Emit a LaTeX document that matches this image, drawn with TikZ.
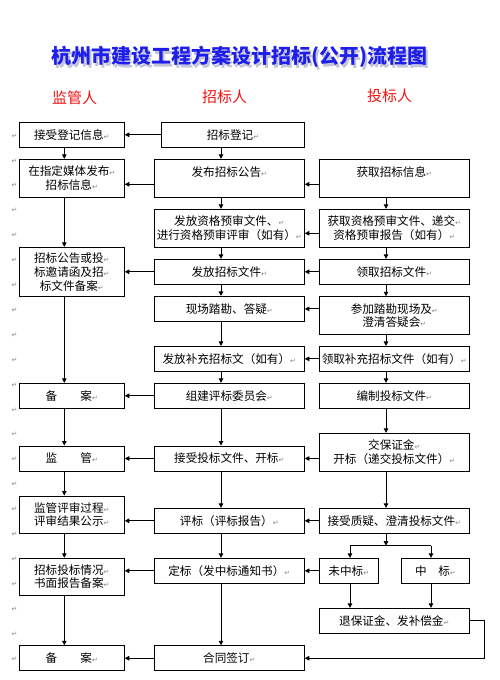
\documentclass[tikz,border=0pt]{standalone}
\usepackage{fontspec}
\setmainfont{Noto Sans CJK SC}
\newfontfamily\retfont{DejaVu Sans}
\usetikzlibrary{arrows.meta,calc}
\definecolor{ttlblue}{RGB}{30,30,235}
\definecolor{ttlshadow}{RGB}{195,195,215}
\definecolor{hdrred}{RGB}{240,20,20}
\definecolor{markgray}{RGB}{135,135,135}
\newcommand{\pmk}{{\retfont\fontsize{7}{7}\selectfont\textcolor{markgray}{↵}}}
\newcommand{\ttltext}{杭州市建设工程方案设计招标(公开)流程图}
\begin{document}
\begin{tikzpicture}[x=1pt,y=-1pt,
  box/.style={draw, line width=0.9pt, inner sep=0pt, align=center,
    font=\fontsize{11.6}{13.7}\selectfont},
  colL/.style={minimum width=105pt},
  colM/.style={minimum width=150pt},
  colR/.style={minimum width=150pt},
  hA/.style={minimum height=25pt},
  hB/.style={minimum height=38pt},
  hC/.style={minimum height=49.4pt},
  arr/.style={line width=0.9pt, -{Triangle[width=4.5pt,length=4.5pt]}},
  ln/.style={line width=0.9pt},
  hdr/.style={text=hdrred, font=\fontsize{15}{15}\selectfont},
  ttl/.style={font=\fontsize{20}{20}\selectfont\bfseries},
  margmark/.style={inner sep=0pt, font=\retfont\fontsize{7}{7}\selectfont, text=markgray}]
\fill[white] (0,0) rectangle (500,680);
\useasboundingbox (0,0) rectangle (500,680);

% title with soft shadow (one node)
\node[ttl] (title) at (239,58) {\rlap{\hspace{2.5pt}\raisebox{-3pt}{\textcolor{ttlshadow}{\ttltext}}}\textcolor{ttlblue}{\ttltext}};

% column headers
\node[hdr] (h1) at (74.5,98) {监管人};
\node[hdr] (h2) at (224.5,97) {招标人};
\node[hdr] (h3) at (389.5,96) {投标人};

% margin marks
\foreach \k in {0,...,21}
  \node[margmark] (m\k) at (14.5,{136+24.9*\k}) {↵};

% arrow columns
\coordinate (xL) at (64.3,0);
\coordinate (xM) at (221,0);
\coordinate (xR) at (386,0);
\coordinate (xa) at (350,0);
\coordinate (xb) at (431,0);
\coordinate (rc) at (484.3,0);
\coordinate (y1) at (0,184.3);
\coordinate (y2) at (0,233.3);

% left column
\node[box,colL,hA] (jsdj) at (71.8,134.8) {接受登记信息\pmk};
\node[box,colL,hB] (zdmt) at (71.8,178.3) {在指定媒体发布\pmk\\招标信息\pmk};
\node[box,colL,hC] (bagg) at (71.8,272) {招标公告或投\pmk\\标邀请函及招\pmk\\标文件备案\pmk};
\node[box,colL,hA] (ba1) at (71.8,395.8) {备\hspace{2em}案\pmk};
\node[box,colL,hA] (jg) at (71.8,458.5) {监\hspace{2em}管\pmk};
\node[box,colL,minimum height=37.3pt] (jgps) at (71.8,514.65) {监管评审过程\pmk\\评审结果公示\pmk};
\node[box,colL,minimum height=36.7pt] (zbqk) at (71.8,576.65) {招标投标情况\pmk\\书面报告备案\pmk};
\node[box,colL,hA] (ba3) at (71.8,658.2) {备\hspace{2em}案\pmk};

% middle column
\node[box,minimum width=142.6pt,hA] (zbdj) at (233,134.8) {招标登记\pmk};
\node[box,colM,hB] (fbgg) at (229.3,178.3) {发布招标公告\pmk\\\mbox{}};
\node[box,colM,hB] (ffzg) at (229.3,228.3) {发放资格预审文件、\pmk\\进行资格预审评审（如有）\pmk};
\node[box,colM,hA] (ffwj) at (229.3,271.8) {发放招标文件\pmk};
\node[box,colM,hA] (xctk) at (229.3,308.9) {现场踏勘、答疑\pmk};
\node[box,colM,hA] (ffbc) at (229.3,358.9) {发放补充招标文（如有）\pmk};
\node[box,colM,hA] (zjpb) at (229.3,395.8) {组建评标委员会\pmk};
\node[box,colM,hA] (jstb) at (229.3,458.5) {接受投标文件、开标\pmk};
\node[box,colM,hA] (pb) at (229.3,520.8) {评标（评标报告）\pmk};
\node[box,colM,hA] (db) at (229.3,570.8) {定标（发中标通知书）\pmk};
\node[box,colM,hA] (ht) at (229.3,658.2) {合同签订\pmk};

% right column
\node[box,colR,hB] (hqxx) at (394.3,178.3) {获取招标信息\pmk\\\mbox{}};
\node[box,colR,hB] (hqzg) at (394.3,228.3) {获取资格预审文件、递交\pmk\\资格预审报告（如有）\pmk};
\node[box,colR,hA] (lqwj) at (394.3,271.8) {领取招标文件\pmk};
\node[box,colR,minimum height=37.6pt] (cjtk) at (394.3,315.5) {参加踏勘现场及\pmk\\澄清答疑会\pmk};
\node[box,colR,hA] (lqbc) at (394.3,358.9) {领取补充招标文件（如有）\pmk};
\node[box,colR,hA] (bztb) at (394.3,395.8) {编制投标文件\pmk};
\node[box,colR,minimum height=37.7pt] (jbzj) at (394.3,452.15) {交保证金\pmk\\开标（递交投标文件）\pmk};
\node[box,colR,hA] (jszy) at (394.3,520.8) {接受质疑、澄清投标文件\pmk};
\node[box,minimum width=59pt,hA] (wzb) at (348.8,570.8) {未中标\pmk};
\node[box,minimum width=67.6pt,hA] (zb) at (435.5,570.8) {中\hspace{1em}标\pmk};
\node[box,colR,hA] (tbzj) at (394.3,620.8) {退保证金、发补偿金\pmk};

% vertical arrows, left
\draw[arr] (jsdj.south -| xL) -- (zdmt.north -| xL);
\draw[arr] (zdmt.south -| xL) -- (bagg.north -| xL);
\draw[arr] (bagg.south -| xL) -- (ba1.north -| xL);
\draw[arr] (ba1.south -| xL) -- (jg.north -| xL);
\draw[arr] (jg.south -| xL) -- (jgps.north -| xL);
\draw[arr] (jgps.south -| xL) -- (zbqk.north -| xL);
\draw[arr] (zbqk.south -| xL) -- (ba3.north -| xL);

% vertical arrows, middle
\draw[arr] (zbdj.south -| xM) -- (fbgg.north -| xM);
\draw[arr] (fbgg.south -| xM) -- (ffzg.north -| xM);
\draw[arr] (ffzg.south -| xM) -- (ffwj.north -| xM);
\draw[arr] (ffwj.south -| xM) -- (xctk.north -| xM);
\draw[arr] (xctk.south -| xM) -- (ffbc.north -| xM);
\draw[arr] (ffbc.south -| xM) -- (zjpb.north -| xM);
\draw[arr] (zjpb.south -| xM) -- (jstb.north -| xM);
\draw[arr] (jstb.south -| xM) -- (pb.north -| xM);
\draw[arr] (pb.south -| xM) -- (db.north -| xM);
\draw[arr] (db.south -| xM) -- (ht.north -| xM);

% vertical arrows, right
\draw[arr] (hqxx.south -| xR) -- (hqzg.north -| xR);
\draw[arr] (hqzg.south -| xR) -- (lqwj.north -| xR);
\draw[arr] (lqwj.south -| xR) -- (cjtk.north -| xR);
\draw[arr] (cjtk.south -| xR) -- (lqbc.north -| xR);
\draw[arr] (lqbc.south -| xR) -- (bztb.north -| xR);
\draw[arr] (bztb.south -| xR) -- (jbzj.north -| xR);
\draw[arr] (jbzj.south -| xR) -- (jszy.north -| xR);

% split to 未中标 / 中标
\coordinate (sp) at (386,545.7);
\draw[arr] (jszy.south -| xR) -- (sp);
\draw[ln] (sp -| xa) -- (sp -| xb);
\draw[arr] (sp -| xa) -- (wzb.north -| xa);
\draw[arr] (sp -| xb) -- (zb.north -| xb);
\draw[arr] (wzb.south -| xa) -- (tbzj.north -| xa);
\draw[arr] (zb.south -| xb) -- (tbzj.north -| xb);

% horizontal arrows
\draw[arr] (zbdj.west) -- (jsdj.east |- zbdj.west);
\draw[arr] (fbgg.west |- y1) -- (zdmt.east |- y1);
\draw[arr] (hqxx.west |- y1) -- (fbgg.east |- y1);
\draw[arr] (hqzg.west |- y2) -- (ffzg.east |- y2);
\draw[arr] (ffwj.west) -- (bagg.east |- ffwj.west);
\draw[arr] (lqwj.west) -- (ffwj.east);
\draw[arr] (cjtk.west |- xctk.east) -- (xctk.east);
\draw[arr] (lqbc.west) -- (ffbc.east);
\draw[arr] (zjpb.west) -- (ba1.east);
\draw[arr] (jbzj.west |- jstb.east) -- (jstb.east);
\draw[arr] (jstb.west) -- (jg.east);
\draw[arr] (pb.west) -- (jgps.east |- pb.west);
\draw[arr] (jszy.west) -- (pb.east);
\draw[arr] (db.west) -- (zbqk.east |- db.west);
\draw[arr] (wzb.west) -- (db.east);
\draw[arr] (ht.west) -- (ba3.east);
\draw[arr] (tbzj.east) -| (rc |- ht.east) -- (ht.east);
\end{tikzpicture}
\end{document}
